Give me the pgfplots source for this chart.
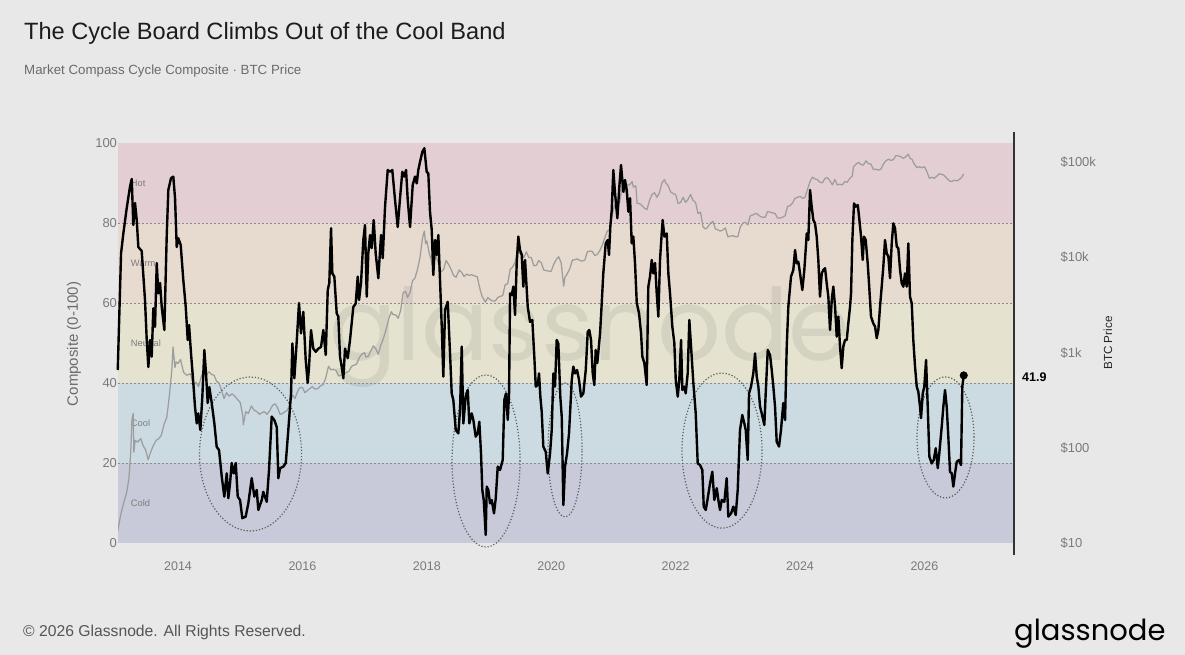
\documentclass[border=0pt]{standalone}
\usepackage{fontspec}
\setmainfont{Liberation Sans}
\newfontfamily\poppins{Poppins}
\usepackage{pgfplots}
\pgfplotsset{compat=1.18}
\definecolor{bgc}{HTML}{E8E8E8}
\definecolor{hotc}{HTML}{E3CFD3}
\definecolor{warmc}{HTML}{E7DBCF}
\definecolor{neutc}{HTML}{E5E3CF}
\definecolor{coolc}{HTML}{CCDAE2}
\definecolor{coldc}{HTML}{C8C9D9}
\definecolor{tickc}{HTML}{7A7A7A}
\definecolor{titlec}{HTML}{1C1C1C}
\definecolor{subc}{HTML}{6B6B6B}
\definecolor{footc}{HTML}{555555}
\definecolor{bandc}{HTML}{7C7C7C}
\definecolor{dashc}{HTML}{8A8A8A}
\definecolor{ellc}{HTML}{5E5E5E}
\definecolor{pricec}{HTML}{9D9D9D}
\definecolor{axc}{HTML}{333333}
\pgfplotsset{
  base/.style={width=895pt, height=400pt, scale only axis,
    xmin=2013.035, xmax=2027.424, at={(118pt,-543pt)}, anchor=south west},
}
\tikzset{
  dashln/.style={dashc, line width=0.9pt, dash pattern=on 2pt off 2pt},
  ell/.style={ellc, line width=1.2pt, dash pattern=on 1.2pt off 1.9pt},
  bandlab/.style={anchor=west, inner sep=0, font=\fontsize{9.3}{11}\selectfont, text=bandc},
}
\begin{document}
\begin{tikzpicture}[x=1pt,y=1pt]
\path[use as bounding box] (0,0) rectangle (1185,-655);
\fill[bgc] (0,0) rectangle (1185,-655);
\node[anchor=base west, inner sep=0, text=titlec, font=\fontsize{23.6}{28}\selectfont] at (24,-40) {The Cycle Board Climbs Out of the Cool Band};
\node[anchor=base west, inner sep=0, text=subc, font=\fontsize{13.3}{16}\selectfont] at (24,-75) {Market Compass Cycle Composite · BTC Price};

% ---------- axis A: bands, grid, left ticks ----------
\begin{axis}[base, ymin=0, ymax=100,
  axis line style={draw=none}, major tick length=0pt,
  ytick={0,20,40,60,80,100},
  xtick={2014,2016,2018,2020,2022,2024,2026},
  xticklabels={2014,2016,2018,2020,2022,2024,2026},
  /pgf/number format/assume math mode=true,
  yticklabel style={font=\fontsize{13}{15}\selectfont, text=tickc, xshift=2.5pt},
  xticklabel style={font=\fontsize{12.5}{15}\selectfont, text=tickc, yshift=-15pt}]
\fill[coldc] (rel axis cs:0,0) rectangle (rel axis cs:1,0.2);
\fill[coolc] (rel axis cs:0,0.2) rectangle (rel axis cs:1,0.4);
\fill[neutc] (rel axis cs:0,0.4) rectangle (rel axis cs:1,0.6);
\fill[warmc] (rel axis cs:0,0.6) rectangle (rel axis cs:1,0.8);
\fill[hotc] (rel axis cs:0,0.8) rectangle (rel axis cs:1,1);
\node[anchor=base, inner sep=0, font=\poppins\fontsize{100}{120}\selectfont, text=black, opacity=0.07] at (axis cs:2020.624,45.75) {glassnode};
\draw[dashln] (rel axis cs:0,0.2) -- (rel axis cs:1,0.2);
\draw[dashln] (rel axis cs:0,0.4) -- (rel axis cs:1,0.4);
\draw[dashln] (rel axis cs:0,0.6) -- (rel axis cs:1,0.6);
\draw[dashln] (rel axis cs:0,0.8) -- (rel axis cs:1,0.8);
\node[bandlab] at (axis cs:2013.24,90) {Hot};
\node[bandlab] at (axis cs:2013.24,70) {Warm};
\node[bandlab] at (axis cs:2013.24,50) {Neutral};
\node[bandlab] at (axis cs:2013.24,30) {Cool};
\node[bandlab] at (axis cs:2013.24,10) {Cold};
\end{axis}

% ---------- axis B: BTC price (log, right) ----------
\begin{axis}[base, ymode=log, ymin=10, ymax=160000,
  hide x axis, axis y line*=right, y axis line style={draw=none},
  major tick length=0pt, minor tick length=0pt,
  ytick={10,100,1000,10000,100000},
  yticklabels={\$10,\$100,\$1k,\$10k,\$100k},
  yticklabel style={anchor=west, font=\fontsize{13}{15}\selectfont, text=tickc, xshift=44pt}]
\addplot[pricec, line width=1.25pt, line join=round] coordinates {
(2013.03,13.4) (2013.08,20) (2013.13,27) (2013.17,33) (2013.21,47) (2013.24,90) (2013.26,200) (2013.28,230)
(2013.29,90) (2013.31,120) (2013.35,115) (2013.40,125) (2013.44,105) (2013.48,95) (2013.52,75) (2013.56,90)
(2013.60,105) (2013.65,120) (2013.69,125) (2013.73,135) (2013.78,180) (2013.82,210) (2013.86,350) (2013.90,650)
(2013.92,1150) (2013.95,700) (2013.97,800) (2014.00,770) (2014.04,850) (2014.09,620) (2014.14,580) (2014.20,600)
(2014.25,450) (2014.29,490) (2014.33,440) (2014.38,580) (2014.42,640) (2014.46,590) (2014.50,630) (2014.54,590)
(2014.58,580) (2014.62,500) (2014.66,480) (2014.70,400) (2014.74,330) (2014.78,380) (2014.82,350) (2014.87,370)
(2014.91,350) (2014.96,320) (2015.00,300) (2015.04,220) (2015.05,175) (2015.09,240) (2015.13,230) (2015.18,275)
(2015.22,250) (2015.27,240) (2015.31,225) (2015.35,235) (2015.39,240) (2015.43,225) (2015.48,250) (2015.52,280)
(2015.56,290) (2015.60,265) (2015.64,225) (2015.68,230) (2015.72,240) (2015.76,250) (2015.80,290) (2015.84,360)
(2015.88,330) (2015.92,390) (2015.96,430) (2016.00,430) (2016.04,380) (2016.08,400) (2016.12,420) (2016.16,440)
(2016.20,415) (2016.25,420) (2016.29,450) (2016.33,460) (2016.37,530) (2016.42,720) (2016.46,660) (2016.50,670)
(2016.54,650) (2016.58,570) (2016.62,580) (2016.67,610) (2016.71,620) (2016.75,640) (2016.79,720) (2016.83,740)
(2016.87,760) (2016.92,900) (2016.96,970) (2017.00,1000) (2017.02,900) (2017.06,920) (2017.10,1050) (2017.14,1180)
(2017.18,1100) (2017.22,960) (2017.26,1200) (2017.30,1400) (2017.35,1800) (2017.39,2300) (2017.43,2700) (2017.46,2500)
(2017.50,2500) (2017.54,2300) (2017.58,2800) (2017.62,4300) (2017.66,4400) (2017.69,3800) (2017.73,4300) (2017.77,5700)
(2017.81,6100) (2017.85,7500) (2017.89,10000) (2017.93,16000) (2017.96,19000) (2017.98,14000) (2018.00,15000) (2018.04,11000)
(2018.08,9000) (2018.10,7000) (2018.14,10500) (2018.18,9000) (2018.22,7000) (2018.27,7500) (2018.31,9300) (2018.35,8500)
(2018.39,7500) (2018.43,6500) (2018.47,6200) (2018.52,7400) (2018.56,7000) (2018.60,6300) (2018.64,6700) (2018.68,6500)
(2018.72,6600) (2018.77,6400) (2018.81,6300) (2018.86,4500) (2018.89,3900) (2018.94,3400) (2018.98,3800) (2019.02,3600)
(2019.06,3500) (2019.10,3500) (2019.14,3800) (2019.18,3900) (2019.22,4000) (2019.26,5200) (2019.30,5300) (2019.34,7500)
(2019.38,8000) (2019.42,9000) (2019.46,12000) (2019.48,11000) (2019.52,11500) (2019.56,10000) (2019.60,11500) (2019.64,10000)
(2019.68,10000) (2019.72,8200) (2019.76,8300) (2019.80,9300) (2019.84,8800) (2019.88,7400) (2019.92,7300) (2019.96,7200)
(2020.00,7200) (2020.04,8500) (2020.08,9500) (2020.12,10200) (2020.16,8800) (2020.20,5000) (2020.22,6200) (2020.26,6800)
(2020.30,7700) (2020.34,9400) (2020.38,9500) (2020.42,9700) (2020.46,9300) (2020.50,9200) (2020.54,9400) (2020.58,11500)
(2020.62,11700) (2020.66,11600) (2020.70,10500) (2020.74,10800) (2020.78,11800) (2020.82,13500) (2020.86,16000) (2020.90,19000)
(2020.94,19500) (2020.98,28000) (2021.02,36000) (2021.06,33000) (2021.10,38000) (2021.14,56000) (2021.18,48000) (2021.22,58000)
(2021.26,58000) (2021.30,63000) (2021.32,55000) (2021.36,57000) (2021.38,37000) (2021.42,37000) (2021.46,35000) (2021.50,33000)
(2021.54,32000) (2021.58,40000) (2021.62,46000) (2021.66,48000) (2021.70,43000) (2021.74,48000) (2021.78,61000) (2021.82,66000)
(2021.84,61000) (2021.88,57000) (2021.92,49000) (2021.96,47000) (2022.00,46000) (2022.04,37000) (2022.08,38000) (2022.12,43000)
(2022.16,38000) (2022.20,41000) (2022.24,46000) (2022.28,40000) (2022.32,38000) (2022.36,29000) (2022.40,30000) (2022.44,21000)
(2022.48,20000) (2022.52,21000) (2022.56,23000) (2022.60,24000) (2022.64,20000) (2022.68,19500) (2022.72,19000) (2022.76,19500)
(2022.80,20500) (2022.84,16500) (2022.88,16800) (2022.92,17000) (2022.96,16600) (2023.00,16600) (2023.04,21000) (2023.08,23000)
(2023.12,23500) (2023.16,22000) (2023.20,27500) (2023.24,28000) (2023.28,29000) (2023.32,28500) (2023.36,27000) (2023.40,26500)
(2023.44,26500) (2023.48,30500) (2023.52,30000) (2023.56,29500) (2023.60,29000) (2023.64,26000) (2023.68,26000) (2023.72,26500)
(2023.76,27500) (2023.80,34500) (2023.84,35000) (2023.88,37500) (2023.92,42000) (2023.96,43000) (2024.00,44000) (2024.04,42000)
(2024.08,43000) (2024.12,52000) (2024.16,63000) (2024.20,70000) (2024.24,67000) (2024.28,66000) (2024.32,62000) (2024.36,61000)
(2024.40,68000) (2024.44,69000) (2024.48,64000) (2024.52,58000) (2024.56,66000) (2024.60,58000) (2024.64,59000) (2024.68,58000)
(2024.72,63000) (2024.76,62000) (2024.80,68000) (2024.84,72000) (2024.86,90000) (2024.90,96000) (2024.94,100000) (2024.98,95000)
(2025.02,94000) (2025.06,104000) (2025.10,97000) (2025.14,96000) (2025.18,84000) (2025.22,85000) (2025.26,83000) (2025.30,85000)
(2025.34,96000) (2025.38,104000) (2025.42,108000) (2025.46,105000) (2025.50,107000) (2025.54,118000) (2025.58,117000) (2025.62,115000)
(2025.66,110000) (2025.70,115000) (2025.74,122000) (2025.77,110000) (2025.80,108000) (2025.84,95000) (2025.88,88000) (2025.92,90000)
(2025.96,88000) (2026.00,90000) (2026.04,80000) (2026.08,68000) (2026.12,70000) (2026.16,68000) (2026.20,72000) (2026.24,76000)
(2026.28,75000) (2026.32,73000) (2026.36,68000) (2026.40,64000) (2026.44,63000) (2026.48,65000) (2026.52,64000) (2026.56,66000)
(2026.60,70000) (2026.63,76000)
};
\end{axis}

% ---------- axis C: composite line ----------
\begin{axis}[base, ymin=0, ymax=100, hide axis, clip=false]
\draw[ell] (axis cs:2015.166,22.25) ellipse [x radius=51pt, y radius=77pt];
\draw[ell] (axis cs:2018.952,20.5) ellipse [x radius=34pt, y radius=86pt];
\draw[ell] (axis cs:2020.222,23.25) ellipse [x radius=17pt, y radius=67pt];
\draw[ell] (axis cs:2022.746,23.1) ellipse [x radius=40pt, y radius=77.5pt];
\draw[ell] (axis cs:2026.339,26.4) ellipse [x radius=28.5pt, y radius=60.5pt];
\addplot[black, line width=2.4pt, line join=round] coordinates {
(2013.031,43.25) (2013.084,72.4) (2013.121,77.4) (2013.175,83.7) (2013.228,89.1) (2013.256,91) (2013.281,79.5) (2013.309,85)
(2013.336,80.75) (2013.362,74) (2013.416,73) (2013.469,60.75) (2013.497,50.75) (2013.523,44) (2013.550,50.75) (2013.577,46.6)
(2013.603,58.7) (2013.630,54) (2013.658,70) (2013.683,62.4) (2013.711,65) (2013.738,59) (2013.780,53.25) (2013.818,76.6)
(2013.844,88.25) (2013.887,91.2) (2013.924,91.6) (2013.952,86.2) (2013.979,74) (2014.005,76.2) (2014.043,74.5) (2014.085,65.75)
(2014.124,59) (2014.156,50.75) (2014.177,54.5) (2014.209,47.4) (2014.246,40) (2014.273,34) (2014.301,29.9) (2014.326,32.4)
(2014.359,28.25) (2014.391,36.6) (2014.423,48.25) (2014.450,42.4) (2014.477,35) (2014.503,39) (2014.542,35) (2014.584,29.9)
(2014.622,24) (2014.659,23.25) (2014.703,16.6) (2014.744,11.6) (2014.783,17.4) (2014.809,11.2) (2014.836,14.9) (2014.863,20)
(2014.896,17.4) (2014.928,20) (2014.960,11.6) (2014.997,10.75) (2015.034,6.2) (2015.088,6.6) (2015.130,9.9) (2015.185,16.2)
(2015.227,11.6) (2015.265,13.25) (2015.291,8.25) (2015.346,10.75) (2015.371,12.8) (2015.426,10.3) (2015.463,18.25) (2015.506,31.6)
(2015.548,30.75) (2015.587,29) (2015.613,16.2) (2015.640,18.7) (2015.693,19.1) (2015.732,20) (2015.773,28.25) (2015.817,37.4)
(2015.838,49.9) (2015.870,41.2) (2015.908,50.3) (2015.945,60) (2015.977,52.4) (2016.014,57.8) (2016.053,45.75) (2016.085,40)
(2016.106,44) (2016.138,53.25) (2016.175,48.6) (2016.214,47.8) (2016.256,48.6) (2016.299,49) (2016.336,53.25) (2016.375,47)
(2016.407,63.25) (2016.432,65) (2016.460,78.7) (2016.481,67.4) (2016.513,66.6) (2016.551,57.4) (2016.577,56.6) (2016.604,46.6)
(2016.632,44) (2016.658,41.2) (2016.685,48.6) (2016.728,46.2) (2016.765,50.75) (2016.818,59) (2016.857,59.9) (2016.889,66.6)
(2016.910,60.75) (2016.942,65) (2016.979,75.75) (2017.006,79.5) (2017.034,61.6) (2017.059,72.4) (2017.087,77) (2017.114,73.7)
(2017.146,80.75) (2017.178,72.4) (2017.220,66.2) (2017.264,77) (2017.291,71.2) (2017.328,84) (2017.371,93.25) (2017.408,92.8)
(2017.445,93.25) (2017.489,85.75) (2017.532,79) (2017.569,86.2) (2017.606,92.8) (2017.638,91.6) (2017.666,93.25) (2017.693,85.75)
(2017.730,79) (2017.773,89.5) (2017.810,91.6) (2017.838,89.9) (2017.863,93.25) (2017.891,95.3) (2017.928,97.8) (2017.960,98.7)
(2017.998,92.8) (2018.024,92.4) (2018.051,82.8) (2018.079,78.25) (2018.104,67) (2018.132,75.75) (2018.159,72) (2018.185,77)
(2018.212,65.75) (2018.240,54) (2018.265,41.6) (2018.293,58.25) (2018.336,60.3) (2018.373,47.4) (2018.400,37.4) (2018.426,35.75)
(2018.465,28.25) (2018.506,27.4) (2018.534,33.25) (2018.561,49.1) (2018.587,29.9) (2018.625,36.6) (2018.658,38.25) (2018.683,29.9)
(2018.722,32.4) (2018.748,30.75) (2018.786,26.6) (2018.818,27.4) (2018.844,30.3) (2018.871,22.4) (2018.892,13.25) (2018.915,10.75)
(2018.947,2) (2018.963,14.1) (2018.989,13.25) (2019.016,9.9) (2019.043,10.75) (2019.080,7.4) (2019.108,11.2) (2019.140,19.1)
(2019.177,18.25) (2019.220,20.75) (2019.246,35.75) (2019.273,37.4) (2019.301,30.75) (2019.322,37.4) (2019.338,62.4) (2019.365,62)
(2019.391,64.1) (2019.418,57) (2019.445,70) (2019.471,76.6) (2019.498,73.25) (2019.526,72) (2019.551,64.1) (2019.579,70.75)
(2019.622,59.1) (2019.659,55.3) (2019.696,55.75) (2019.728,46.6) (2019.751,39.1) (2019.783,39.5) (2019.804,42.4) (2019.825,36.6)
(2019.847,32.8) (2019.873,24.1) (2019.912,22.8) (2019.944,17.4) (2019.981,22.4) (2020.008,28.25) (2020.034,42.4) (2020.061,39.1)
(2020.088,50.75) (2020.114,49.9) (2020.146,36.6) (2020.169,31.6) (2020.195,9.5) (2020.222,19.1) (2020.254,22.4) (2020.286,27.4)
(2020.330,40.75) (2020.355,44.1) (2020.383,42.4) (2020.415,43.25) (2020.447,40.75) (2020.479,36.6) (2020.516,37.4) (2020.555,43.25)
(2020.587,52.8) (2020.612,53.25) (2020.640,50.75) (2020.667,42.4) (2020.693,39.5) (2020.715,48.25) (2020.741,45) (2020.785,52.4)
(2020.812,60) (2020.837,67.4) (2020.876,74.9) (2020.908,75.75) (2020.929,72) (2020.950,79.1) (2020.973,83.25) (2020.998,93.25)
(2021.026,87.4) (2021.063,81.2) (2021.095,89.1) (2021.122,94.5) (2021.159,87.8) (2021.186,90.75) (2021.214,88.25) (2021.240,82.8)
(2021.267,86.2) (2021.294,74.9) (2021.320,76.6) (2021.347,70) (2021.375,60) (2021.412,57.4) (2021.444,52.4) (2021.465,46.6)
(2021.497,45) (2021.535,39.5) (2021.561,64.1) (2021.588,66.6) (2021.616,70.75) (2021.641,67.4) (2021.669,70) (2021.696,62.4)
(2021.722,56.6) (2021.749,70.75) (2021.776,77.4) (2021.792,80.75) (2021.818,76.6) (2021.857,77.4) (2021.883,67.4) (2021.910,62.4)
(2021.947,54.1) (2021.979,50) (2022.002,40.75) (2022.034,36.6) (2022.059,40.75) (2022.087,50.75) (2022.108,38.25) (2022.140,39.1)
(2022.162,37.4) (2022.194,42.4) (2022.220,55.75) (2022.248,49.1) (2022.285,40) (2022.323,32.4) (2022.355,19.9) (2022.392,19.5)
(2022.429,18.25) (2022.452,9.1) (2022.484,8.25) (2022.516,11.2) (2022.553,14.9) (2022.590,17.8) (2022.622,10.75) (2022.661,13.7)
(2022.687,10.75) (2022.714,8.25) (2022.741,10.75) (2022.783,10.3) (2022.821,16.2) (2022.847,6.6) (2022.891,7.4) (2022.928,9.1)
(2022.966,7) (2022.998,13.25) (2023.035,28.25) (2023.072,32) (2023.104,29.9) (2023.127,28.25) (2023.159,20.75) (2023.180,37.4)
(2023.212,39.1) (2023.249,42.4) (2023.277,47.4) (2023.304,41.6) (2023.330,39.1) (2023.357,34.1) (2023.384,32.4) (2023.426,29.5)
(2023.448,37.4) (2023.481,48.25) (2023.518,47) (2023.545,43.25) (2023.571,39.1) (2023.598,34.1) (2023.625,25.3) (2023.662,24.1)
(2023.694,28.25) (2023.731,35) (2023.759,30.75) (2023.786,49.1) (2023.812,59.1) (2023.855,66.6) (2023.892,68.25) (2023.920,73.25)
(2023.947,69.9) (2023.973,70.3) (2024.000,67.4) (2024.037,63.25) (2024.069,68.25) (2024.108,77.4) (2024.133,75.75) (2024.161,88.25)
(2024.188,84) (2024.214,80.75) (2024.241,79.9) (2024.268,76.6) (2024.294,70.75) (2024.321,61.6) (2024.349,67.4) (2024.374,68.25)
(2024.402,68.7) (2024.429,64.9) (2024.455,61.6) (2024.482,53.25) (2024.510,60.75) (2024.535,64.1) (2024.563,59.1) (2024.590,51.6)
(2024.616,56.6) (2024.643,49.1) (2024.670,43.7) (2024.696,49.1) (2024.723,50.75) (2024.751,50.75) (2024.776,54.9) (2024.804,59.1)
(2024.820,62.4) (2024.841,75.75) (2024.868,84.9) (2024.895,84.1) (2024.928,84.5) (2024.949,81.6) (2024.981,76.6) (2025.008,70.75)
(2025.029,76.6) (2025.056,75.75) (2025.088,69.9) (2025.109,64.9) (2025.141,56.6) (2025.178,54.9) (2025.206,54.1) (2025.233,51.2)
(2025.259,53.25) (2025.286,59.1) (2025.313,64.1) (2025.339,69.1) (2025.366,75.75) (2025.394,72.4) (2025.420,71.6) (2025.447,66.2)
(2025.474,74.9) (2025.500,79.9) (2025.527,78.7) (2025.555,74.1) (2025.580,73.7) (2025.608,68.25) (2025.635,64.9) (2025.661,64.1)
(2025.688,67.4) (2025.715,64.1) (2025.741,74.9) (2025.768,61.6) (2025.796,59.9) (2025.821,50.75) (2025.849,44.1) (2025.876,39.1)
(2025.902,37.8) (2025.929,34.1) (2025.945,31.2) (2025.973,37.4) (2025.998,39.1) (2026.026,45.75) (2026.053,34.1) (2026.079,21.6)
(2026.117,19.9) (2026.149,20.75) (2026.182,23.7) (2026.214,18.7) (2026.239,22.4) (2026.278,29.1) (2026.304,34.1) (2026.331,38.25)
(2026.358,34.1) (2026.384,26.6) (2026.411,17.8) (2026.439,17.4) (2026.465,14.1) (2026.492,17.4) (2026.519,20.3) (2026.556,20.75)
(2026.588,19.5) (2026.609,39.1) (2026.632,41.9)
};
\addplot[only marks, mark=*, mark size=3.8pt, black] coordinates {(2026.632,41.9)};
\end{axis}

\draw[axc, line width=1.3pt] (1014,-131.7) -- (1014,-555);
\node[anchor=west, inner sep=0, font=\bfseries\fontsize{12.5}{15}\selectfont, text=black] at (1022,-376.7) {41.9};
\node[rotate=90, inner sep=0, font=\fontsize{15}{18}\selectfont, text=subc] at (74,-344) {Composite (0-100)};
\node[rotate=90, inner sep=0, font=\fontsize{11.7}{14}\selectfont, text=black!85] at (1108,-343) {BTC Price};
\node[anchor=base west, inner sep=0, font=\fontsize{15.7}{18}\selectfont, text=footc] at (23,-636) {© 2026 Glassnode. All Rights Reserved.};
\node[anchor=base west, inner sep=0, font=\poppins\fontsize{29}{35}\selectfont, text=black] at (1014,-640) {glassnode};
\end{tikzpicture}
\end{document}
